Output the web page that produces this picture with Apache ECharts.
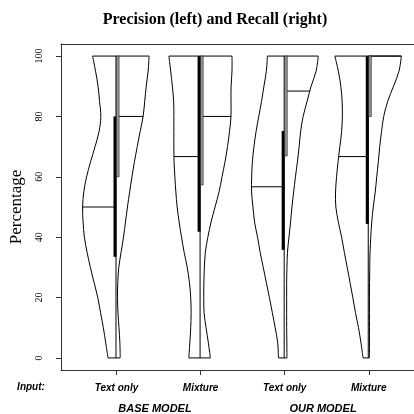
<!DOCTYPE html>
<html><head><meta charset="utf-8">
<script src="https://cdn.jsdelivr.net/npm/echarts@6/dist/echarts.min.js"></script>
<style>html,body{margin:0;padding:0;background:#fff}#c{width:414px;height:414px}</style>
</head><body><div id="c"></div>
<script>
// ---- data ----
const categories = ['Text only', 'Mixture', 'Text only', 'Mixture'];
const groups = ['BASE MODEL', 'OUR MODEL'];
const yTicks = [0, 20, 40, 60, 80, 100];
const xTicks = [1, 2, 3, 4];
// percentage levels at which the violin outline (density) was read
const levels = [100, 95, 90, 85, 80, 75, 70, 65, 60, 55, 50, 45, 40, 35, 30, 25, 20, 15, 10, 5, 0];
// relative density (half-width) of precision (left half) per violin
const precBaseText = [24, 21, 18.5, 17, 15.7, 17.5, 21.5, 26, 30, 32.8, 34, 33.5, 32.2, 29.5, 26.2, 22.5, 18.8, 16, 13.2, 10.8, 8.5];
const precBaseMix  = [31.8, 30, 28.3, 27, 26.8, 26.8, 26.8, 26.6, 25.8, 24.8, 23.5, 21.5, 19.1, 16.5, 13.4, 11.2, 9.9, 9.5, 9.9, 10.8, 11.8];
const precOurText  = [17.3, 18.4, 20.8, 23.2, 26, 28.7, 30.8, 32.4, 33.1, 33.2, 31.8, 30.2, 27.2, 24.6, 21.5, 18.4, 15.3, 12.4, 9.5, 7, 6.3];
const precOurMix   = [34, 30.5, 28, 26.7, 26.5, 27.2, 29, 30.8, 32.3, 33.3, 33, 30.5, 27.2, 24.5, 21.6, 18.8, 16, 13.3, 10.3, 7.8, 5.8];
// relative density (half-width) of recall (right half) per violin
const recBaseText = [32.7, 31.7, 29.8, 28.3, 26.7, 23.7, 20.8, 18, 15.5, 13.2, 11, 9, 7, 4.6, 2.3, 1.3, 1, 1.5, 2.5, 3.4, 3.7];
const recBaseMix  = [31.5, 31.5, 30.6, 30.5, 30.5, 29, 27, 24.5, 21.5, 18.5, 14.5, 10.5, 7.3, 4.8, 3.8, 3.3, 3.2, 3.5, 5.5, 7.8, 9.8];
const recOurText  = [33.7, 31.5, 26.5, 22.5, 18.5, 16, 14.5, 12.8, 10.8, 9, 7.3, 5.9, 4.3, 2.8, 2.3, 2, 2, 2, 2, 2.2, 2.3];
const recOurMix   = [32.7, 30.3, 24.8, 19, 15, 12.8, 11, 9.6, 8, 6.5, 4.5, 3, 2, 1.3, 1, 0.8, 0.7, 0.7, 0.7, 0.7, 0.7];
// box statistics
const precMedian = [50, 66.7, 56.7, 66.7];
const precQ1 = [33.5, 41.8, 35.8, 44.4];
const precQ3 = [80, 100, 75.2, 100];
const recMedian = [80, 80, 88.4, 100];
const recQ1 = [60, 57.3, 66.9, 80];
const recQ3 = [100, 100, 100, 100];
const valMin = [0, 0, 0, 0];
const valMax = [100, 100, 100, 100];

// ---- drawing ----
const precDens = [precBaseText, precBaseMix, precOurText, precOurMix];
const recDens = [recBaseText, recBaseMix, recOurText, recOurMix];
const DENS_TO_X = 1 / 84.33; // density unit -> x-axis units
const FONT_SERIF = '"Liberation Serif", "DejaVu Serif", serif';
const FONT_SANS = '"Liberation Sans", Arial, sans-serif';
const X_MIN = 0.34, X_MAX = 4.538;

function densAt(arr, v) {
  for (let k = 0; k < levels.length - 1; k++) {
    const a = levels[k], b = levels[k + 1];
    if (v <= a && v >= b) {
      const t = (a - v) / (a - b);
      return arr[k] + (arr[k + 1] - arr[k]) * t;
    }
  }
  return arr[0];
}

function renderItem(params, api) {
  const i = params.dataIndex;
  const c = xTicks[i];
  const L = levels.map((lv, k) => api.coord([c - precDens[i][k] * DENS_TO_X, lv]));
  const R = levels.map((lv, k) => api.coord([c + recDens[i][k] * DENS_TO_X, lv]));
  const lineStyle = { stroke: '#000', lineWidth: 1, fill: null };
  const cx = api.coord([c, 0])[0];
  const children = [];
  children.push({ type: 'polygon', shape: { points: L.concat(R.slice().reverse()) }, style: { fill: '#fff', stroke: null } });
  children.push({ type: 'polyline', shape: { points: L, smooth: 0.35 }, style: lineStyle });
  children.push({ type: 'polyline', shape: { points: R, smooth: 0.35 }, style: lineStyle });
  children.push({ type: 'line', shape: { x1: L[0][0], y1: L[0][1], x2: R[0][0], y2: R[0][1] }, style: lineStyle });
  const n = levels.length - 1;
  children.push({ type: 'line', shape: { x1: L[n][0], y1: L[n][1], x2: R[n][0], y2: R[n][1] }, style: lineStyle });
  // medians
  const pm = precMedian[i];
  const pmL = api.coord([c - densAt(precDens[i], pm) * DENS_TO_X, pm]);
  children.push({ type: 'line', shape: { x1: pmL[0], y1: pmL[1], x2: cx, y2: pmL[1] }, style: lineStyle });
  const rm = recMedian[i];
  const rmR = api.coord([c + densAt(recDens[i], rm) * DENS_TO_X, rm]);
  children.push({ type: 'line', shape: { x1: cx, y1: rmR[1], x2: rmR[0], y2: rmR[1] }, style: lineStyle });
  // whisker
  const yMin = api.coord([c, valMin[i]])[1], yMax = api.coord([c, valMax[i]])[1];
  children.push({ type: 'line', shape: { x1: cx - 0.5, y1: yMin, x2: cx - 0.5, y2: yMax }, style: { stroke: '#000', lineWidth: 1 } });
  // precision box (black, left of centre)
  const pq1 = api.coord([c, precQ1[i]])[1], pq3 = api.coord([c, precQ3[i]])[1];
  children.push({ type: 'rect', shape: { x: cx - 3, y: pq3, width: 3, height: pq1 - pq3 }, style: { fill: '#000' } });
  // recall box (grey, right of centre)
  const rq1 = api.coord([c, recQ1[i]])[1], rq3 = api.coord([c, recQ3[i]])[1];
  children.push({ type: 'rect', shape: { x: cx, y: rq3, width: 2.6, height: rq1 - rq3 }, style: { fill: '#999', stroke: '#222', lineWidth: 0.6 } });
  return { type: 'group', children };
}

const chart = echarts.init(document.getElementById('c'), null, { renderer: 'canvas' });
chart.setOption({
  animation: false,
  backgroundColor: '#fff',
  grid: { left: 61, top: 44, width: 354, height: 326, show: false },
  xAxis: [{
    type: 'value', min: X_MIN, max: X_MAX,
    axisLine: { show: true, onZero: false, lineStyle: { color: '#333', width: 1 } },
    axisTick: { show: true, customValues: xTicks, length: 5, lineStyle: { color: '#333' } },
    axisLabel: {
      customValues: xTicks, margin: 13,
      formatter: v => categories[Math.round(v) - 1] || '',
      fontFamily: FONT_SANS, fontStyle: 'italic', fontWeight: 'bold', fontSize: 10, color: '#000'
    },
    splitLine: { show: false }
  }, {
    type: 'value', position: 'top', min: X_MIN, max: X_MAX,
    axisLine: { show: true, onZero: false, lineStyle: { color: '#333', width: 1 } },
    axisTick: { show: false }, axisLabel: { show: false }, splitLine: { show: false }
  }],
  yAxis: {
    type: 'value', min: -4, max: 104,
    name: 'Percentage', nameLocation: 'middle', nameGap: 36, nameRotate: 90,
    nameTextStyle: { fontFamily: FONT_SERIF, fontSize: 17, color: '#000' },
    axisLine: { show: true, onZero: false, lineStyle: { color: '#333', width: 1 } },
    axisTick: { show: true, customValues: yTicks, length: 5, lineStyle: { color: '#333' } },
    axisLabel: { customValues: yTicks, rotate: 90, margin: 17, fontFamily: FONT_SERIF, fontSize: 10, color: '#000' },
    splitLine: { show: false }
  },
  graphic: [
    { type: 'text', x: 215, y: 20, style: { text: 'Precision (left) and Recall (right)', align: 'center', verticalAlign: 'middle', font: 'bold 16px "Liberation Serif", serif', fill: '#000' } },
    { type: 'text', x: 31, y: 387, style: { text: 'Input:', align: 'center', verticalAlign: 'middle', font: 'italic bold 10px "Liberation Sans", Arial, sans-serif', fill: '#000' } },
    { type: 'text', x: 155, y: 409, style: { text: groups[0], align: 'center', verticalAlign: 'middle', font: 'italic bold 11px "Liberation Sans", Arial, sans-serif', fill: '#000' } },
    { type: 'text', x: 323, y: 409, style: { text: groups[1], align: 'center', verticalAlign: 'middle', font: 'italic bold 11px "Liberation Sans", Arial, sans-serif', fill: '#000' } }
  ],
  series: [{
    type: 'custom', coordinateSystem: 'cartesian2d', clip: false,
    xAxisIndex: 0, yAxisIndex: 0,
    renderItem: renderItem,
    encode: { x: 0, y: 1 },
    data: xTicks.map((x, i) => [x, precMedian[i]])
  }]
});
</script>
</body></html>
